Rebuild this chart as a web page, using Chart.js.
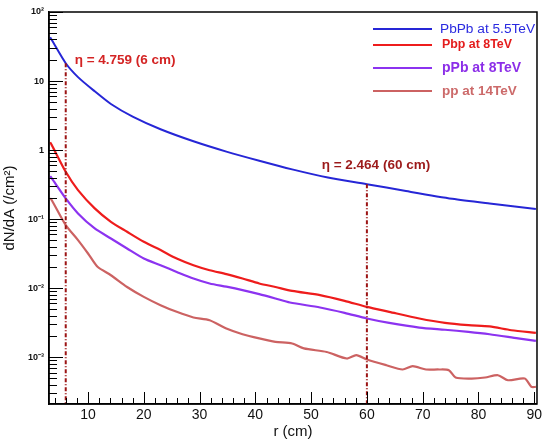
<!DOCTYPE html>
<html><head><meta charset="utf-8">
<script src="https://cdn.jsdelivr.net/npm/chart.js@4/dist/chart.umd.min.js"></script>
<style>html,body{margin:0;padding:0;background:#fff}#wrap{width:545px;height:439px;position:relative}</style>
</head><body><div id="wrap"><canvas id="c" width="545" height="439"></canvas></div>
<script>
// ---- data ----
const rPbPb = [3.2, 3.5, 6, 8.2, 11.2, 14.1, 18, 23, 28.9, 34.8, 40.7, 46.6, 53, 60, 67, 75.3, 82, 90.3];
const PbPb  = [43, 39.3, 18.1, 11.4, 7.1, 4.65, 3.05, 2.0, 1.34, 0.95, 0.70, 0.525, 0.40, 0.321, 0.255, 0.197, 0.168, 0.140];

const rPbp = [3.2, 3.5, 6, 8.2, 11.2, 14.1, 17, 20, 23, 25.9, 28.9, 31.8, 34.8, 37.7, 40.7, 43.6, 46.6, 51.6, 56, 60, 64, 69.4, 74, 78.2, 82, 85.9, 90.3];
const Pbp  = [1.3, 1.18, 0.485, 0.263, 0.143, 0.0914, 0.0655, 0.0469, 0.0356, 0.0269, 0.0215, 0.0182, 0.016, 0.0138, 0.0117, 0.0104, 0.00914, 0.00792, 0.00655, 0.00536, 0.00454, 0.00364, 0.00314, 0.00291, 0.00279, 0.00246, 0.00225];

const rpPb = [3.2, 3.5, 6, 8.2, 11.2, 14.1, 17, 20, 23, 25.9, 28.9, 31.8, 34.8, 37.7, 40.7, 43.6, 46.2, 51.6, 56, 60, 64, 69.4, 74, 78.2, 82, 87.1, 90.3];
const pPb  = [0.42, 0.389, 0.1995, 0.121, 0.0733, 0.0525, 0.0376, 0.0269, 0.0215, 0.0172, 0.0138, 0.0117, 0.0105, 0.00936, 0.00819, 0.00709, 0.0062, 0.00525, 0.00439, 0.00364, 0.00314, 0.00269, 0.0025, 0.00233, 0.00215, 0.00187, 0.00172];

const rpp = [3.2, 3.5, 6, 8.2, 10, 11.7, 14.1, 17, 20, 23, 25.9, 28.9, 31.8, 34.8, 37.7, 40.7, 43.6, 46.6, 48.7, 52.8, 56.4, 58.1, 60, 63.5, 66.4, 68.2, 70.6, 72.9, 74.7, 75.9, 78.8, 81.2, 83.5, 85.3, 88.3, 89.5, 90.3];
const pp  = [0.2, 0.188, 0.0818, 0.0497, 0.0318, 0.0204, 0.0154, 0.0104, 0.00748, 0.00567, 0.00454, 0.00376, 0.00343, 0.0026, 0.00215, 0.00187, 0.00167, 0.00158, 0.00134, 0.00119, 0.000957, 0.00107, 0.000927, 0.000766, 0.000664, 0.000741, 0.000664, 0.000664, 0.000649, 0.000508, 0.000491, 0.000508, 0.000548, 0.000464, 0.000491, 0.000372, 0.000372];

const seriesNames = ['PbPb at 5.5TeV', 'Pbp at 8TeV', 'pPb at 8TeV', 'pp at 14TeV'];
const markerR = [6, 60];
const markerTop = [18.1, 0.321];
const markerLabels = ['η = 4.759 (6 cm)', 'η = 2.464 (60 cm)'];
const markerLabelR = [7.6, 51.9];
const markerLabelY = [20.2, 0.607];
const xTicks = [10, 20, 30, 40, 50, 60, 70, 80, 90];
const yTicks = [1e-3, 1e-2, 1e-1, 1, 10, 100];
const yTickLabels = ['10⁻³', '10⁻²', '10⁻¹', '1', '10', '10²'];
const xMin = 3, xMax = 90.5, yMin = 2.1e-4, yMax = 100;

// ---- styles ----
const FONT = "'Liberation Sans', Arial, Helvetica, sans-serif";
const colors = ['#2626d6', '#ee1c1c', '#8c33f0', '#cc6262'];
const textColors = ['#2a2ae0', '#e41c1c', '#8c2ee8', '#cc6a6a'];
const legendFonts = ['13.7px', 'bold 12.4px', 'bold 14px', 'bold 13.5px'];
const legendY = [29, 45, 68, 91];
const markerColor = '#9c1414';
const markerTextColors = ['#d42424', '#9c1a1a'];

const pts = (xs, ys) => xs.map((x, i) => ({x, y: ys[i]}));
const curves = [[rPbPb, PbPb], [rPbp, Pbp], [rpPb, pPb], [rpp, pp]];

const datasets = curves.map((c, i) => ({
  label: seriesNames[i], data: pts(c[0], c[1]), borderColor: colors[i],
  borderWidth: i === 0 ? 2 : 2.2, pointRadius: 0, tension: 0.25, order: 2, fill: false
}));
markerR.forEach((r, i) => datasets.push({
  label: 'marker' + i, data: [{x: r, y: markerTop[i]}, {x: r, y: yMin}],
  borderColor: markerColor, borderWidth: 2, borderDash: [4, 2, 1, 2], pointRadius: 0, order: 1
}));

const overlay = {
  id: 'overlay',
  afterDraw(chart) {
    const {ctx, chartArea: a, scales: {x, y}} = chart;
    ctx.save();
    ctx.strokeStyle = '#000';
    ctx.lineWidth = 1.5;
    ctx.strokeRect(a.left, a.top, a.right - a.left, a.bottom - a.top);
    ctx.lineWidth = 1;
    // inner ticks, y (log)
    for (let k = -4; k <= 2; k++) {
      for (let m = 1; m <= 9; m++) {
        const v = m * Math.pow(10, k);
        if (v < yMin || v > yMax * 1.0001) continue;
        const py = Math.round(y.getPixelForValue(v)) + 0.5;
        ctx.beginPath();
        ctx.moveTo(a.left, py);
        ctx.lineTo(a.left + (m === 1 ? 14 : 8), py);
        ctx.stroke();
      }
    }
    // inner ticks, x
    for (let r = 4; r <= 90; r += 2) {
      const px = Math.round(x.getPixelForValue(r)) + 0.5;
      ctx.beginPath();
      ctx.moveTo(px, a.bottom);
      ctx.lineTo(px, a.bottom - (r % 10 === 0 ? 12 : 6));
      ctx.stroke();
    }
    // legend
    ctx.textBaseline = 'middle';
    ctx.textAlign = 'left';
    seriesNames.forEach((n, i) => {
      ctx.strokeStyle = colors[i];
      ctx.lineWidth = 2;
      ctx.beginPath();
      ctx.moveTo(373, legendY[i]);
      ctx.lineTo(432, legendY[i]);
      ctx.stroke();
      ctx.fillStyle = textColors[i];
      ctx.font = legendFonts[i] + ' ' + FONT;
      ctx.fillText(n, i === 0 ? 440 : 442, legendY[i]);
    });
    // marker labels
    markerLabels.forEach((t, i) => {
      ctx.fillStyle = markerTextColors[i];
      ctx.font = 'bold 13.5px ' + FONT;
      ctx.fillText(t, x.getPixelForValue(markerLabelR[i]), y.getPixelForValue(markerLabelY[i]));
    });
    ctx.restore();
  }
};

new Chart(document.getElementById('c'), {
  type: 'line',
  data: {datasets},
  options: {
    responsive: false, animation: false, devicePixelRatio: 1,
    layout: {padding: {top: 12, right: 2, left: 0, bottom: 0}},
    plugins: {legend: {display: false}, tooltip: {enabled: false}},
    scales: {
      x: {
        type: 'linear', min: xMin, max: xMax, position: 'bottom',
        grid: {display: false, drawTicks: false},
        border: {display: true, color: '#000', width: 1.5},
        afterBuildTicks: s => { s.ticks = xTicks.map(v => ({value: v})); },
        afterFit: s => { s.height = 35; },
        ticks: {color: '#111', padding: 3, autoSkip: false, maxRotation: 0,
                font: {family: FONT, size: 14}, callback: v => String(v)},
        title: {display: true, text: 'r (cm)', color: '#111',
                font: {family: FONT, size: 15, lineHeight: 1}, padding: {top: 0, bottom: 0}}
      },
      y: {
        type: 'logarithmic', min: yMin, max: yMax,
        grid: {display: false, drawTicks: false},
        border: {display: true, color: '#000', width: 1.5},
        afterBuildTicks: s => { s.ticks = yTicks.map(v => ({value: v})); },
        afterFit: s => { s.width = 49; },
        ticks: {color: '#111', padding: 5, autoSkip: false,
                font: {family: FONT, size: 9, weight: 'bold'},
                callback: (v, i) => yTickLabels[i]},
        title: {display: true, text: 'dN/dA (/cm²)', color: '#111',
                font: {family: FONT, size: 15, lineHeight: 1.2}, padding: {top: 1, bottom: 0}}
      }
    }
  },
  plugins: [overlay]
});
</script>
</body></html>
